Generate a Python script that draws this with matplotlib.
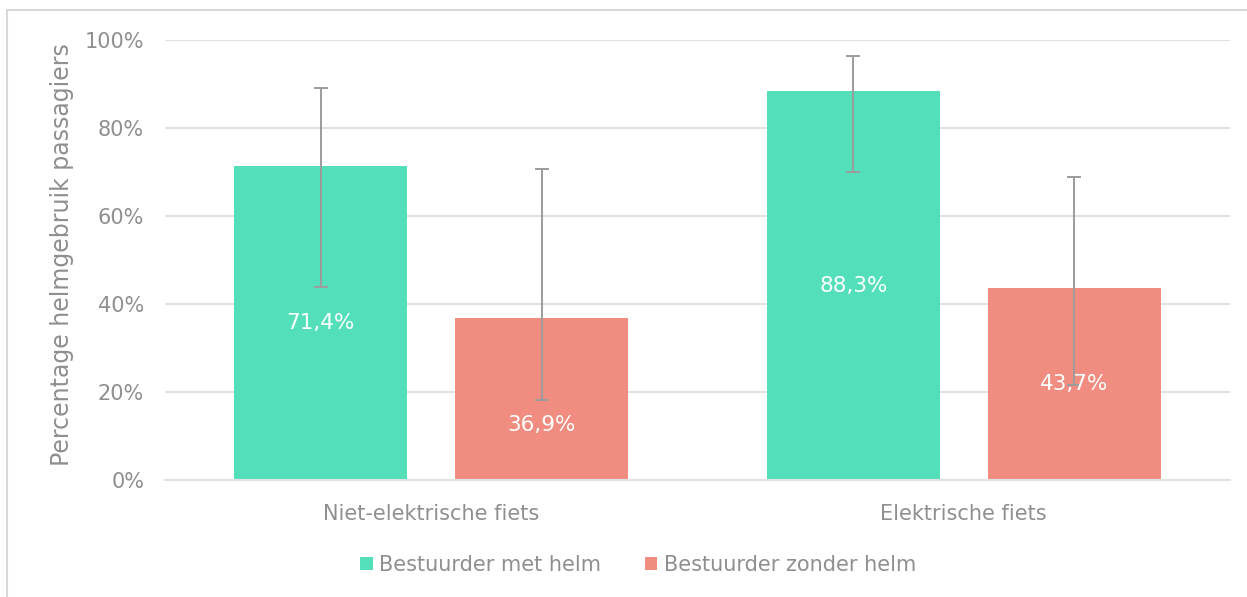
import matplotlib
matplotlib.use("Agg")
import matplotlib.pyplot as plt
import numpy as np
from matplotlib.patches import Rectangle, Patch

# Données
categories = ["Niet-elektrische fiets", "Elektrische fiets"]
series = ["Bestuurder met helm", "Bestuurder zonder helm"]
met_helm = [71.4, 88.3]
zonder_helm = [36.9, 43.7]
# bornes des barres d'erreur (bas, haut)
met_helm_lo = [43.9, 70.0]
met_helm_hi = [89.1, 96.4]
zonder_helm_lo = [18.2, 21.6]
zonder_helm_hi = [70.6, 68.9]
# position verticale des étiquettes (en %)
met_helm_lab = [35.7, 44.15]
zonder_helm_lab = [12.5, 21.85]

couleurs = ["#53DFBA", "#F08C80"]
gris = "#8f8f8f"
grille = "#e2e2e2"

fig = plt.figure(figsize=(12.47, 5.97), dpi=100)
ax = fig.add_axes([165/1247, 1-480/597, (1230-165)/1247, 440/597])

x = np.arange(len(categories))
w = 0.325
dx = 0.2075

valeurs = [met_helm, zonder_helm]
bas = [met_helm_lo, zonder_helm_lo]
haut = [met_helm_hi, zonder_helm_hi]
labs = [met_helm_lab, zonder_helm_lab]
for i in range(2):
    pos = x + (i*2-1)*dx
    v = np.array(valeurs[i])
    ax.bar(pos, v, width=w, color=couleurs[i], zorder=2)
    err = [v - np.array(bas[i]), np.array(haut[i]) - v]
    ax.errorbar(pos, v, yerr=err, fmt="none", ecolor="#9c9c9c",
                elinewidth=1.4, capsize=4.7, capthick=1.4, zorder=3)
    for p, val, ly in zip(pos, v, labs[i]):
        ax.text(p, ly, ("%.1f%%" % val).replace(".", ","), color="white",
                ha="center", va="center", fontsize=15.5, zorder=4)

ax.set_xlim(-0.5, 1.5)
ax.set_ylim(0, 100)
ax.set_yticks(np.arange(0, 101, 20))
ax.set_yticklabels(["%d%%" % t for t in range(0, 101, 20)])
ax.set_xticks(x)
ax.set_xticklabels(categories)
ax.tick_params(axis="both", length=0, labelsize=15, colors=gris)
ax.tick_params(axis="y", pad=15)
ax.tick_params(axis="x", pad=17)
ax.grid(axis="y", color=grille, linewidth=1.5, zorder=0)
for s in ["top", "right", "left"]:
    ax.spines[s].set_visible(False)
ax.spines["bottom"].set_color(grille)
ax.spines["bottom"].set_linewidth(1.5)

fig.text(62/1247, 1-255/597, "Percentage helmgebruik passagiers",
         rotation=90, ha="center", va="center", fontsize=17, color=gris)

handles = [Patch(facecolor=c, edgecolor="none") for c in couleurs]
leg = fig.legend(handles, series, loc="center", bbox_to_anchor=(638/1247, 1-565/597),
                 ncol=2, frameon=False, fontsize=15, handlelength=0.6,
                 handleheight=0.6, handletextpad=0.3, columnspacing=2.1)
for t in leg.get_texts():
    t.set_color(gris)

# cadre du graphique
fig.patches.append(Rectangle((7/1247, -0.05), 1.1, 1-10/597+0.05,
                             transform=fig.transFigure, fill=False,
                             edgecolor="#d9d9d9", linewidth=1.5))

fig.savefig("out.png", dpi=100)
